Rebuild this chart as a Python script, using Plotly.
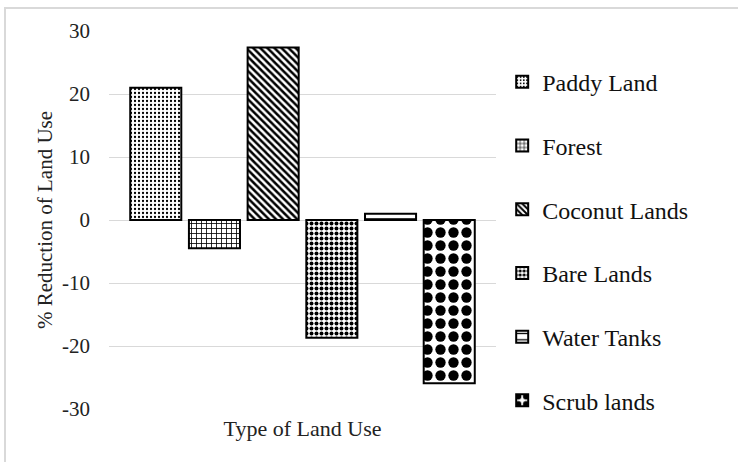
import plotly.graph_objects as go

categories = ["Type of Land Use"]
series_names = ["Paddy Land", "Forest", "Coconut Lands", "Bare Lands", "Water Tanks", "Scrub lands"]
series_values = [21.0, -4.5, 27.4, -18.7, 1.0, -25.9]
y_ticks = [-30, -20, -10, 0, 10, 20, 30]
y_tick_labels = ["-30", "-20", "-10", "0", "10", "20", "30"]

patterns = [
    dict(shape=".", size=4, solidity=0.25),
    dict(shape="+", size=5, solidity=0.3),
    dict(shape="\\", size=5, solidity=0.5),
    dict(shape=".", size=5, solidity=0.5),
    dict(shape="-", size=8, solidity=0.2),
    dict(shape=".", size=13, solidity=0.5),
]

FONT = "Liberation Serif, Times New Roman, serif"

fig = go.Figure()
for i, (name, val) in enumerate(zip(series_names, series_values)):
    p = patterns[i]
    fig.add_trace(go.Bar(
        x=categories, y=[val], name=name, legendgroup=name,
        marker=dict(color="white", line=dict(color="black", width=2),
                    pattern=dict(shape=p["shape"], size=p["size"], solidity=p["solidity"],
                                 fgcolor="black", bgcolor="white", fgopacity=1,
                                 fillmode="overlay")),
    ))

fig.update_layout(
    width=738, height=462,
    paper_bgcolor="white", plot_bgcolor="white",
    margin=dict(l=109, r=242, t=31, b=53),
    barmode="group", bargap=0.09, bargroupgap=0.13,
    font=dict(family=FONT, color="#222", size=20),
    showlegend=True,
    legend=dict(x=1.016, y=0.924, xanchor="left", yanchor="top",
                font=dict(family=FONT, size=24, color="#111"),
                tracegroupgap=29.5, traceorder="grouped", itemwidth=30),
    xaxis=dict(showgrid=False, showline=False, ticks="", ticklabelstandoff=4,
               tickfont=dict(family=FONT, size=22, color="#222")),
    yaxis=dict(range=[-30, 30], tickvals=y_ticks, ticktext=y_tick_labels,
               showgrid=True, gridcolor="#d9d9d9",
               gridwidth=1, zeroline=True, zerolinecolor="#d9d9d9", zerolinewidth=1,
               showline=False, ticks="", ticklabelstandoff=18,
               tickfont=dict(family=FONT, size=21, color="#222"),
               title=dict(text="% Reduction of Land Use", standoff=3,
                          font=dict(family=FONT, size=21, color="#222"))),
    shapes=[dict(type="rect", xref="paper", yref="paper",
                 x0=(5 - 109) / 387, x1=(745 - 109) / 387,
                 y0=(409 - 475) / 378, y1=(409 - 8) / 378,
                 line=dict(color="#d9d9d9", width=2), fillcolor="rgba(0,0,0,0)", layer="below")],
)

fig.write_html("out.html", config={"displayModeBar": False},
               post_script="document.body.style.margin='0';document.body.style.overflow='hidden';")
